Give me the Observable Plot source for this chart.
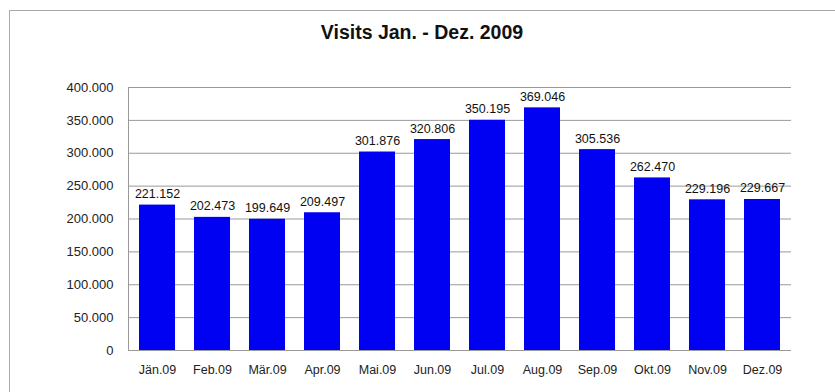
<!DOCTYPE html>
<html>
<head>
<meta charset="utf-8">
<script src="https://cdn.jsdelivr.net/npm/d3@7"></script>
<script src="https://cdn.jsdelivr.net/npm/@observablehq/plot@0.6"></script>
<style>
  html, body { margin: 0; padding: 0; background: #fff; width: 835px; height: 392px; overflow: hidden; position: relative; }
  #frame { position: absolute; left: 9px; top: 10px; width: 1000px; height: 1000px; border: 1px solid #a8a8a8; box-sizing: border-box; }
  #title { position: relative; height: 60px; box-sizing: border-box; padding-top: 22px; padding-left: 9px; text-align: center;
           font: bold 19.5px "Liberation Sans", Arial, sans-serif; line-height: 20px; color: #111; }
  #chart { position: relative; }
</style>
</head>
<body>
<div id="frame"></div>
<div id="title">Visits Jan. - Dez. 2009</div>
<div id="chart"></div>
<script>
const months = ["Jän.09","Feb.09","Mär.09","Apr.09","Mai.09","Jun.09","Jul.09","Aug.09","Sep.09","Okt.09","Nov.09","Dez.09"];
const visits = [221152, 202473, 199649, 209497, 301876, 320806, 350195, 369046, 305536, 262470, 229196, 229667];
const yTicks = [0, 50000, 100000, 150000, 200000, 250000, 300000, 350000, 400000];

const data = months.map((m, i) => ({month: m, visits: visits[i]}));
const de = d3.formatLocale({decimal: ",", thousands: ".", grouping: [3], currency: ["", " €"]});
const fmt = de.format(",");

const plot = Plot.plot({
  width: 835,
  height: 332,
  marginLeft: 128,
  marginRight: 44,
  marginTop: 27,
  marginBottom: 42,
  style: {background: "transparent", fontFamily: "'Liberation Sans', Arial, sans-serif", fontSize: "12.5px", color: "#222"},
  x: {domain: months, paddingInner: 0.35, paddingOuter: 0.175, label: null},
  y: {domain: [0, 400000], label: null},
  marks: [
    Plot.ruleY(yTicks, {stroke: "#999", strokeWidth: 1}),
    Plot.barY(data, {x: "month", y: "visits", fill: "#0000f2"}),
    Plot.text(data, {x: "month", y: "visits", text: d => fmt(d.visits), dy: -11, fill: "#111", fontSize: 12.5}),
    Plot.frame({anchor: "left", stroke: "#999"}),
    Plot.axisY({ticks: yTicks, tickFormat: fmt, tickSize: 0, tickPadding: 15, fontSize: 13, label: null, fill: "#222"}),
    Plot.axisX({tickSize: 0, tickPadding: 15, fontSize: 12.5, label: null, fill: "#222"})
  ]
});
document.getElementById("chart").appendChild(plot);
</script>
</body>
</html>
